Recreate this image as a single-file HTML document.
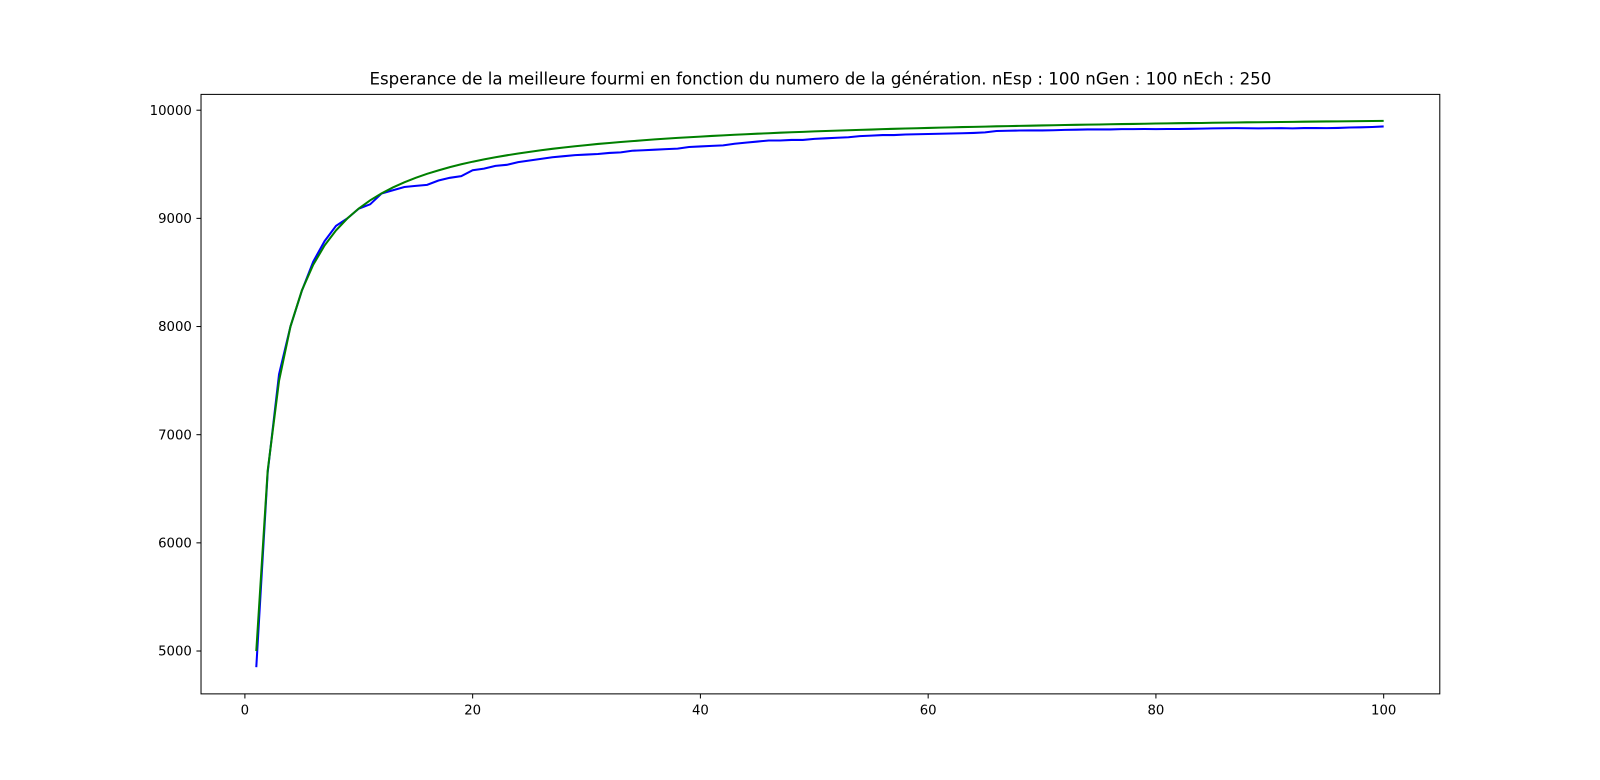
<!DOCTYPE html>
<html><head><meta charset="utf-8"><style>
html,body{margin:0;padding:0;background:#fff;width:1600px;height:780px;overflow:hidden;font-family:"Liberation Sans","DejaVu Sans",sans-serif}
svg{display:block}
svg text{font-family:"DejaVu Sans","Liberation Sans",sans-serif}
</style></head><body>
<svg id="chart" width="1600" height="780" viewBox="0 0 1568 764.4" xmlns="http://www.w3.org/2000/svg">
<rect width="1568" height="764.4" fill="#fff"/>
<text x="804" y="83" font-size="16.3" text-anchor="middle">Esperance de la meilleure fourmi en fonction du numero de la génération. nEsp : 100 nGen : 100 nEch : 250</text>
<g id="ticks"></g>
<g id="series"></g>
<rect x="197" y="92.5" width="1214" height="587.5" fill="none" stroke="#000" stroke-width="1"/>
</svg>
<script>
const xTicks=[0,20,40,60,80,100];
const yTicks=[5000,6000,7000,8000,9000,10000];
const bestAnt=[4850,6650,7560,8000,8330,8600,8790,8930,9000,9090,9130,9230,9260,9290,9300,9310,9350,9375,9390,9445,9460,9485,9495,9520,9535,9550,9565,9575,9585,9590,9595,9605,9610,9625,9630,9635,9640,9645,9660,9665,9670,9675,9690,9700,9710,9720,9720,9725,9725,9735,9740,9745,9750,9760,9765,9770,9770,9775,9778,9780,9782,9785,9787,9790,9795,9808,9810,9812,9813,9813,9815,9818,9820,9822,9822,9822,9825,9825,9826,9825,9826,9826,9828,9830,9832,9833,9834,9833,9832,9833,9834,9832,9835,9835,9834,9836,9840,9842,9845,9850];
const theory=[5000,6667,7500,8000,8333,8571,8750,8889,9000,9091,9167,9231,9286,9333,9375,9412,9444,9474,9500,9524,9545,9565,9583,9600,9615,9630,9643,9655,9667,9677,9688,9697,9706,9714,9722,9730,9737,9744,9750,9756,9762,9767,9773,9778,9783,9787,9792,9796,9800,9804,9808,9811,9815,9818,9821,9825,9828,9831,9833,9836,9839,9841,9844,9846,9848,9851,9853,9855,9857,9859,9861,9863,9865,9867,9868,9870,9872,9873,9875,9877,9878,9880,9881,9882,9884,9885,9886,9888,9889,9890,9891,9892,9894,9895,9896,9897,9898,9899,9900,9901];
const NS="http://www.w3.org/2000/svg";
const xs=v=>240+v*11.16;
const ys=v=>638-(v-5000)*0.106;
const tg=document.getElementById('ticks');
xTicks.forEach(t=>{
 const l=document.createElementNS(NS,'line');
 
 
 l.setAttribute('x1',xs(t));l.setAttribute('x2',xs(t));l.setAttribute('y1',680);l.setAttribute('y2',684.5);l.setAttribute('stroke','#000');
 tg.appendChild(l);
 const tx=document.createElementNS(NS,'text');
 
 
 tx.setAttribute('x',xs(t));tx.setAttribute('y',700);tx.setAttribute('font-size','13');tx.setAttribute('text-anchor','middle');
 tx.textContent=t;tg.appendChild(tx);
});
yTicks.forEach(t=>{
 const l=document.createElementNS(NS,'line');
 
 
 l.setAttribute('x1',192.5);l.setAttribute('x2',197);l.setAttribute('y1',ys(t));l.setAttribute('y2',ys(t));l.setAttribute('stroke','#000');
 tg.appendChild(l);
 const tx=document.createElementNS(NS,'text');
 
 
 tx.setAttribute('x',188);tx.setAttribute('y',ys(t)+4.5);tx.setAttribute('font-size','13');tx.setAttribute('text-anchor','end');
 tx.textContent=t;tg.appendChild(tx);
});
const sg=document.getElementById('series');
function line(arr,color,name){
 const p=document.createElementNS(NS,'polyline');
 
 
 p.setAttribute('points',arr.map((v,i)=>xs(i+1)+','+ys(v)).join(' '));
 p.setAttribute('fill','none');p.setAttribute('stroke',color);p.setAttribute('stroke-width','2');
 sg.appendChild(p);
}
line(bestAnt,'#0000ff','best-ant-line');
line(theory,'#008000','theoretical-line');
</script>
</body></html>
